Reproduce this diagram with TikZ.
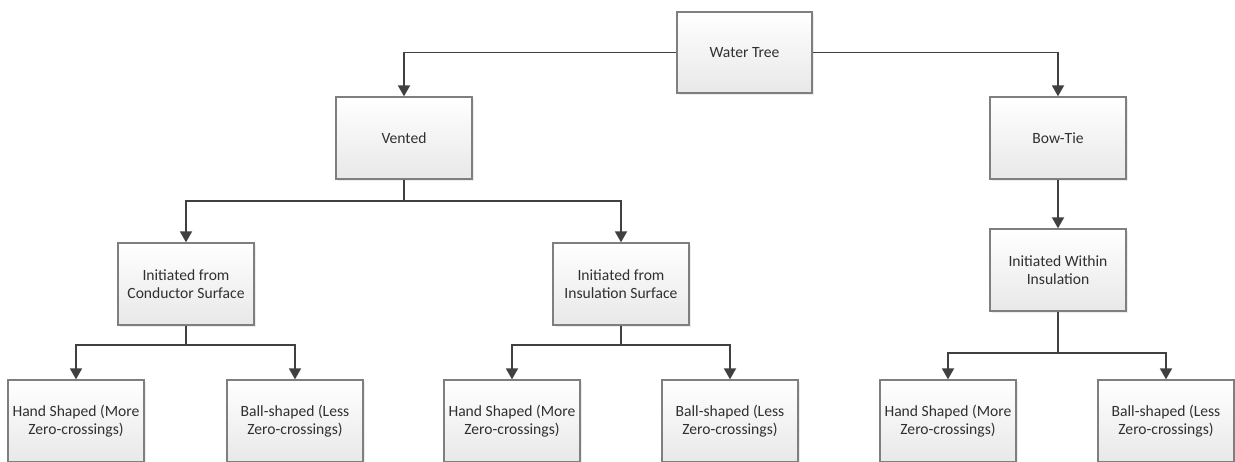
\documentclass[tikz,border=0pt]{standalone}
\usepackage{fontspec}
\setmainfont{Carlito}
\usetikzlibrary{arrows.meta,shadows}
\definecolor{boxline}{HTML}{7F7F7F}
\definecolor{boxbot}{HTML}{E8E8E8}
\definecolor{conncol}{HTML}{404040}
\definecolor{txt}{HTML}{303030}
\tikzset{
  box/.style={draw=boxline, line width=1.3pt, top color=white, bottom color=boxbot,
    minimum width=136pt, minimum height=82pt, inner sep=2pt, align=center,
    text=txt, font=\fontsize{15.6}{18.5}\selectfont,
    drop shadow={shadow xshift=1.5pt, shadow yshift=-1.5pt, opacity=0.15, fill=gray}},
  conn/.style={draw=conncol, line width=1.8pt, -{Triangle[length=11pt,width=12pt]}},
  plain/.style={draw=conncol, line width=1.8pt}
}
\begin{document}
\begin{tikzpicture}[x=1pt,y=-1pt]
\useasboundingbox[fill=white] (0,0) rectangle (1235,461);
\node[box, minimum width=135pt, minimum height=81pt] (wt) at (744.5,52.5) {Water Tree};
\node[box] (vented) at (404,138) {Vented};
\node[box] (bowtie) at (1058,138) {Bow-Tie};
\node[box] (ics) at (186,284) {Initiated from\\Conductor Surface};
\node[box] (iis) at (621,284) {Initiated from\\Insulation Surface};
\node[box] (iwi) at (1058,270) {Initiated Within\\Insulation};
\node[box] (l1) at (76,421) {Hand Shaped (More\\Zero-crossings)};
\node[box] (l2) at (295,421) {Ball-shaped (Less\\Zero-crossings)};
\node[box] (l3) at (512,421) {Hand Shaped (More\\Zero-crossings)};
\node[box] (l4) at (730,421) {Ball-shaped (Less\\Zero-crossings)};
\node[box] (l5) at (948,421) {Hand Shaped (More\\Zero-crossings)};
\node[box] (l6) at (1166,421) {Ball-shaped (Less\\Zero-crossings)};
\coordinate (j1) at (404,201);
\coordinate (j2) at (186,345);
\coordinate (j3) at (621,345);
\coordinate (j4) at (1058,353);
\draw[conn] (wt.west) -| (vented.north);
\draw[conn] (wt.east) -| (bowtie.north);
\draw[plain] (vented.south) -- (j1);
\draw[conn] (j1) -| (ics.north);
\draw[conn] (j1) -| (iis.north);
\draw[conn] (bowtie.south) -- (iwi.north);
\draw[plain] (ics.south) -- (j2);
\draw[conn] (j2) -| (l1.north);
\draw[conn] (j2) -| (l2.north);
\draw[plain] (iis.south) -- (j3);
\draw[conn] (j3) -| (l3.north);
\draw[conn] (j3) -| (l4.north);
\draw[plain] (iwi.south) -- (j4);
\draw[conn] (j4) -| (l5.north);
\draw[conn] (j4) -| (l6.north);
\end{tikzpicture}
\end{document}
